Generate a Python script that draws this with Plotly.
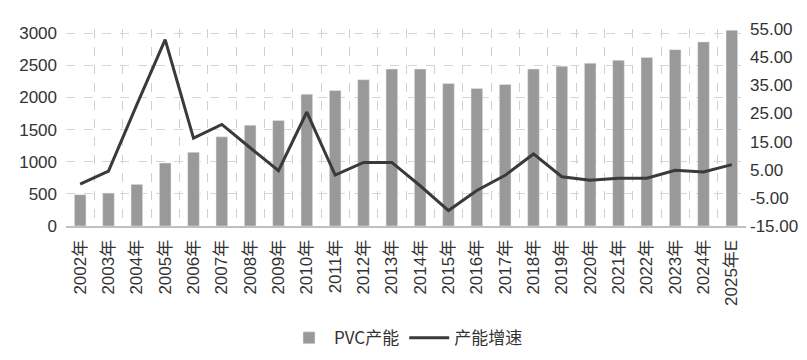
import plotly.graph_objects as go

years = ["2002年", "2003年", "2004年", "2005年", "2006年", "2007年", "2008年", "2009年",
         "2010年", "2011年", "2012年", "2013年", "2014年", "2015年", "2016年", "2017年",
         "2018年", "2019年", "2020年", "2021年", "2022年", "2023年", "2024年", "2025年E"]
capacity = [487, 512, 648, 980, 1146, 1387, 1568, 1643, 2050, 2110, 2276, 2442, 2442,
            2216, 2141, 2201, 2442, 2487, 2533, 2578, 2623, 2744, 2864, 3045]
growth = [-0.1, 4.5, 28.1, 51.2, 16.2, 21.1, 12.8, 4.7, 25.5, 3.1, 7.6, 7.6, -0.7,
          -9.5, -2.4, 3.0, 10.6, 2.5, 1.3, 2.0, 2.0, 4.8, 4.2, 6.8]
left_ticks = [0, 500, 1000, 1500, 2000, 2500, 3000]
right_ticks = [-15, -5, 5, 15, 25, 35, 45, 55]

font_fam = "Liberation Sans, Arial, Noto Sans CJK SC, sans-serif"

fig = go.Figure()
fig.add_trace(go.Bar(x=years, y=capacity, name="PVC产能", marker_color="#999999",
                     width=0.41, yaxis="y"))
fig.add_trace(go.Scatter(x=years, y=growth, name="产能增速", mode="lines",
                         line=dict(color="#3a3a3a", width=3), yaxis="y2"))

fig.update_layout(
    width=807, height=360,
    margin=dict(l=58, r=69, t=21, b=135),
    paper_bgcolor="white", plot_bgcolor="white",
    font=dict(family=font_fam, size=16, color="#333333"),
    showlegend=True,
    legend=dict(orientation="h", x=0.5, xanchor="center", y=-0.57, yanchor="middle",
                font=dict(size=17, family="Noto Sans CJK SC, Liberation Sans"),
                itemwidth=40, tracegroupgap=0),
    xaxis=dict(type="category", tickangle=-90, tickson="boundaries", showgrid=True,
               griddash="dash", gridcolor="#cfcfcf", gridwidth=1,
               showline=True, linecolor="#c0c0c0", linewidth=2, ticks="",
               tickfont=dict(size=17), ticklabelstandoff=5),
    yaxis=dict(range=[0, 3065], tickvals=left_ticks, showgrid=True, griddash="dash",
               gridcolor="#d5d5d5", gridwidth=1, zeroline=False, ticks="",
               tickfont=dict(size=17), ticklabelstandoff=8),
    yaxis2=dict(range=[-15, 55], tickvals=right_ticks,
                ticktext=[f"{v:.2f}" for v in right_ticks], overlaying="y", side="right",
                showgrid=False, zeroline=False, ticks="", tickfont=dict(size=17),
                ticklabelstandoff=3),
    bargap=0.59,
)

fig.write_html("out.html")
